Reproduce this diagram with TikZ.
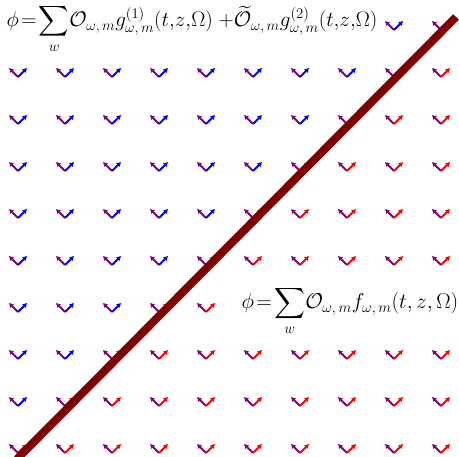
\documentclass[tikz,border=0pt]{standalone}
\usepackage{amsmath}
\usepackage{graphicx}
\usetikzlibrary{arrows.meta}
\definecolor{vpurple}{RGB}{128,0,128}
\begin{document}
\begin{tikzpicture}[x=1pt,y=-1pt,
    vec/.style={line width=2pt,-{Triangle[length=4.5pt,width=4.5pt]}},
    formula/.style={fill=white,inner sep=0.5pt,font=\huge}]
  \useasboundingbox (0,0) rectangle (459,457);

  \foreach \i in {0,...,9}
    \foreach \j in {0,...,9}{
      \pgfmathsetmacro{\cx}{18+47*\i}
      \pgfmathsetmacro{\cy}{25+47*\j}
      \pgfmathtruncatemacro{\side}{\i+\j}
      \ifnum\side<9 \def\vcol{blue}\else\def\vcol{red}\fi
      \draw[vec,vpurple] (\cx,\cy+5) -- (\cx-9,\cy-4);
      \draw[vec,\vcol] (\cx,\cy+5) -- (\cx+9,\cy-4);
    }

  \node[formula,anchor=west] (upper) at (6,29)
    {\scalebox{1.02}{$\displaystyle\phi\!=\!\sum_w\!\mathcal{O}_{\omega,\,m}g^{(1)}_{\omega,\,m}(t{,}z{,}\Omega)
      \;{+}\widetilde{\mathcal{O}}_{\omega,\,m}g^{(2)}_{\omega,\,m}(t{,}z{,}\Omega)$}};
  \node[formula,anchor=east] (lower) at (459,311)
    {\scalebox{1.035}{$\displaystyle\phi\!=\!\sum_w\!\mathcal{O}_{\omega,\,m}f_{\omega,\,m}(t,z,\Omega)$}};

  \draw[line width=8pt,red!50!black] (17,459) -- (456,17);
\end{tikzpicture}
\end{document}
